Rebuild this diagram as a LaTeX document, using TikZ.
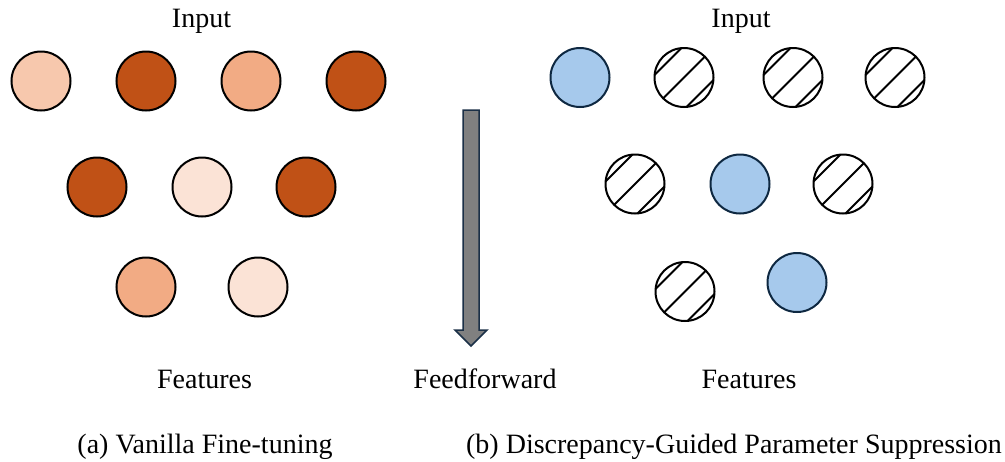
\documentclass[tikz,border=0pt]{standalone}
\usepackage{fontspec}
\setmainfont{Liberation Serif}
\begin{document}
\begin{tikzpicture}[x=1pt,y=-1pt,
  neuron/.style={circle,draw=black,line width=2pt,minimum size=59pt,inner sep=0pt},
  dark/.style={neuron,fill=orDark},
  mid/.style={neuron,fill=orMid},
  light/.style={neuron,fill=orLight},
  pale/.style={neuron,fill=orPale},
  blue/.style={neuron,draw=blueEdge,fill=blueFill},
  hatch/.style={neuron,fill=white,path picture={
    \foreach \o in {-1,0,1}{
      \draw[line width=2pt] ([shift={(\o*16-45,\o*16+45)}]path picture bounding box.center)
        -- ([shift={(\o*16+45,\o*16-45)}]path picture bounding box.center);}}},
  lbl/.style={anchor=base,font=\fontsize{28}{33}\selectfont,inner sep=0pt}
]
\definecolor{orDark}{HTML}{C05116}
\definecolor{orMid}{HTML}{F2AB84}
\definecolor{orLight}{HTML}{F7C8AD}
\definecolor{orPale}{HTML}{FBE3D6}
\definecolor{blueFill}{HTML}{A6C9EC}
\definecolor{blueEdge}{HTML}{0E2841}
\definecolor{arrowFill}{HTML}{808080}
\definecolor{arrowEdge}{HTML}{1B3047}
\useasboundingbox (0,0) rectangle (1005,461);
% left panel
\node[light] (l11) at (41,81) {};
\node[dark]  (l12) at (146,81) {};
\node[mid]   (l13) at (251,81) {};
\node[dark]  (l14) at (356,81) {};
\node[dark]  (l21) at (97,187) {};
\node[pale]  (l22) at (202,187) {};
\node[dark]  (l23) at (306,187) {};
\node[mid]   (l31) at (146,287) {};
\node[pale]  (l32) at (258,287) {};
% right panel
\node[blue]  (r11) at (580,77.5) {};
\node[hatch] (r12) at (684,77.5) {};
\node[hatch] (r13) at (793,77.5) {};
\node[hatch] (r14) at (895,77.5) {};
\node[hatch] (r21) at (635,184) {};
\node[blue]  (r22) at (740,184) {};
\node[hatch] (r23) at (843,184) {};
\node[hatch] (r31) at (685,291.5) {};
\node[blue]  (r32) at (797,282.5) {};
% arrow
\draw[fill=arrowFill,draw=arrowEdge,line width=1.5pt,line join=miter]
  (463,110) -- (479,110) -- (479,330) -- (487,330) -- (471,346) -- (455,330) -- (463,330) -- cycle;
% labels
\node[lbl] (inL) at (201.5,27) {Input};
\node[lbl] (inR) at (741,27) {Input};
\node[lbl] (featL) at (204.5,388) {Features};
\node[lbl] (ff) at (485,388) {Feedforward};
\node[lbl] (featR) at (749,388) {Features};
\node[lbl] (capA) at (205,453) {(a) Vanilla Fine-tuning};
\node[lbl] (capB) at (734,453) {(b) Discrepancy-Guided Parameter Suppression};
\end{tikzpicture}
\end{document}
